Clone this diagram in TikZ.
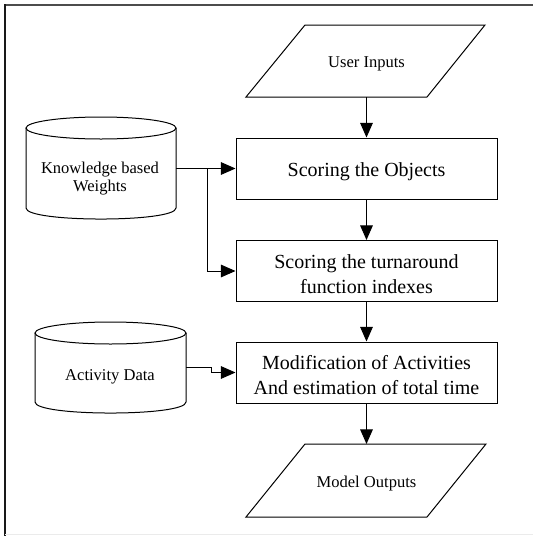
\documentclass[tikz,border=0pt]{standalone}
\usepackage{fontspec}
\setmainfont{Liberation Serif}
\usetikzlibrary{arrows.meta}
\begin{document}
\begin{tikzpicture}[x=0.75pt,y=-0.75pt,line width=0.75pt,
  proc/.style={draw,minimum width=195.75pt,minimum height=45.75pt,inner sep=0pt},
  big/.style={align=center,font=\fontsize{15}{18.75}\selectfont,inner sep=0pt,yshift=-2.25pt},
  lbl/.style={align=center,font=\fontsize{12.4}{14}\selectfont,inner sep=0pt,yshift=-2pt},
  anchorbox/.style={inner sep=0pt,outer sep=0pt},
  arr/.style={-{Triangle[length=11pt,width=9.5pt]}}]
\useasboundingbox (0,0) rectangle (533,536);
% frame
\draw[line width=1.5pt,black!70] (4,5) -- (533,5);
\draw[line width=1.5pt,black!90] (5,4) -- (5,536);
\draw[line width=1pt,black!8] (5,534.5) -- (533,534.5);

% process boxes
\node[proc,label={[big]center:Scoring the Objects}] (b1) at (366.5,168.5) {};
\node[proc,label={[big]center:Scoring the turnaround\\function indexes}] (b2) at (366.5,271) {};
\node[proc,label={[big]center:Modification of Activities\\And estimation of total time}] (b3) at (366.5,372.5) {};

% parallelograms
\draw (305,25) -- (485,25) -- (427,97) -- (246,97) -- cycle;
\node[anchorbox,minimum height=54pt,label={[lbl]center:User Inputs}] (ui) at (366.5,61) {};
\draw (305,444) -- (486,444) -- (427,517) -- (246,517) -- cycle;
\node[anchorbox,minimum height=54.75pt,label={[lbl]center:Model Outputs}] (mo) at (366.5,480.5) {};

% cylinder: knowledge
\node[anchorbox,minimum width=112.5pt,minimum height=76.5pt] (kw) at (101,168.5) {};
\draw (101,128) ellipse [x radius=56.25pt,y radius=8.25pt];
\draw (26,128) -- (26,208) .. controls (26,222.7) and (176,222.7) .. (176,208) -- (176,128);
\node[lbl,yshift=0pt] (kwt) at (100,176) {Knowledge based\\Weights};

% cylinder: activity data
\node[anchorbox,minimum width=113.25pt,minimum height=68.25pt] (ad) at (110.5,367.5) {};
\draw (110.5,333) ellipse [x radius=56.625pt,y radius=8.25pt];
\draw (35,333) -- (35,402) .. controls (35,416.7) and (186,416.7) .. (186,402) -- (186,333);
\node[lbl] (adt) at (110,374) {Activity Data};

% connectors
\draw[arr] (ui.south) -- (b1.north);
\draw[arr] (b1.south) -- (b2.north);
\draw[arr] (b2.south) -- (b3.north);
\draw[arr] (b3.south) -- (mo.north);
\coordinate (j1) at (207,168.5);
\draw[arr] (kw.east) -- (b1.west);
\draw[arr] (j1) |- (b2.west);
\draw[arr] (ad.east) -- ++(25,0) |- (b3.west);
\end{tikzpicture}
\end{document}
